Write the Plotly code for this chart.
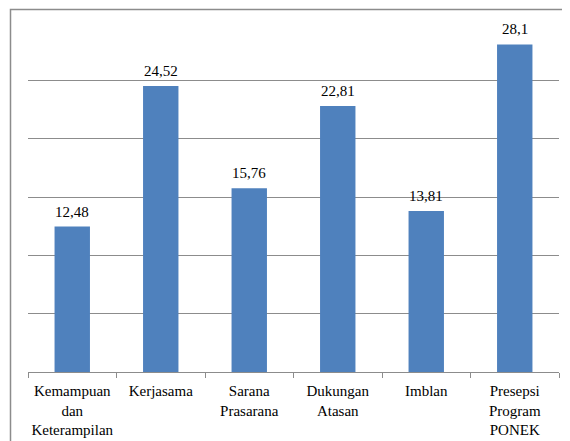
import plotly.graph_objects as go

categories = ["Kemampuan<br>dan<br>Keterampilan", "Kerjasama", "Sarana<br>Prasarana",
              "Dukungan<br>Atasan", "Imblan", "Presepsi<br>Program<br>PONEK"]
values = [12.48, 24.52, 15.76, 22.81, 13.81, 28.1]
value_labels = ["12,48", "24,52", "15,76", "22,81", "13,81", "28,1"]

OFF = 8  # default body margin of the page
W, H = 570 - OFF, 441 - OFF
ml, mr, mt, mb = 28 - OFF, 11, 22 - OFF, 69
pw, ph = W - ml - mr, H - mt - mb
plot_bottom = H - mb  # in figure pixels

FONT = "Liberation Serif"
serif = dict(family=FONT, size=15, color="black")

fig = go.Figure(go.Bar(
    x=categories, y=values,
    marker=dict(color="#4F81BD", line=dict(width=0)),
))

ann = [dict(x=c, y=v, xref="x", yref="y", text=t, showarrow=False,
            yanchor="bottom", yshift=5, font=serif)
       for c, v, t in zip(categories, values, value_labels)]

fig.update_layout(
    width=W, height=H,
    margin=dict(l=ml, r=mr, t=mt, b=mb, autoexpand=False),
    paper_bgcolor="white", plot_bgcolor="white",
    bargap=0.6, showlegend=False,
    font=serif, annotations=ann,
    xaxis=dict(showline=True, linecolor="#8c8c8c", linewidth=1,
               ticks="outside", tickson="boundaries", ticklen=5, tickcolor="#8c8c8c",
               tickfont=serif, tickangle=0, ticklabelstandoff=5,
               showgrid=False, automargin=False),
    yaxis=dict(range=[0, 30.02], tickvals=[5, 10, 15, 20, 25, 30], showticklabels=False,
               showgrid=True, automargin=False,
               gridcolor="#8c8c8c", gridwidth=1, zeroline=False, showline=False),
    shapes=[
        dict(type="rect", xref="paper", yref="paper", layer="above",
             x0=(2.5 - ml) / pw, x1=(W + 20 - ml) / pw,
             y0=-(mb + 20) / ph, y1=(plot_bottom - 1.5) / ph,
             line=dict(color="#8c8c8c", width=1.5), fillcolor="rgba(0,0,0,0)"),
    ],
)
fig.write_html("out.html")
